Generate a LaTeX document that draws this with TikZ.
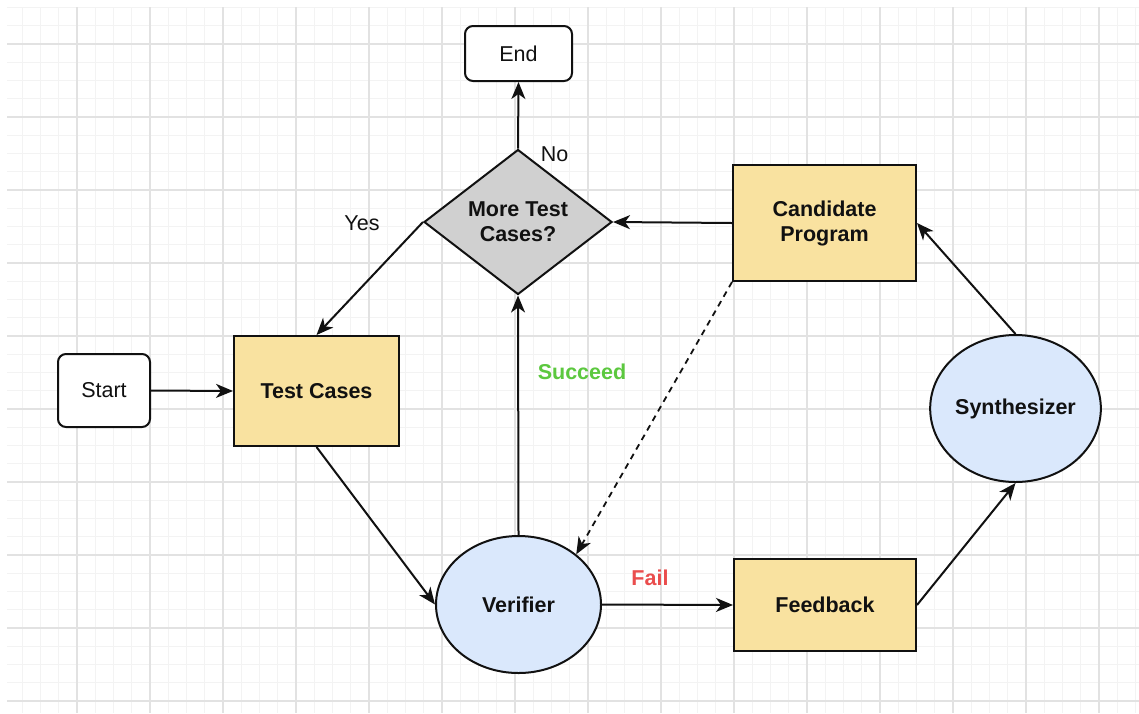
\documentclass[tikz,border=0pt]{standalone}
\usepackage{fontspec}
\setmainfont{Liberation Sans}
\usetikzlibrary{shapes.geometric,arrows.meta}
\definecolor{boxyellow}{HTML}{F9E2A0}
\definecolor{ovalblue}{HTML}{DAE8FC}
\definecolor{diagray}{HTML}{D0D0D0}
\definecolor{okgreen}{HTML}{5CC83F}
\definecolor{failred}{HTML}{EA4D4D}
\definecolor{gridmajor}{HTML}{E2E2E2}
\definecolor{gridminor}{HTML}{F3F3F3}
\definecolor{ink}{HTML}{111111}
\begin{document}
\begin{tikzpicture}[x=1pt,y=-1pt,
  txt/.style={font=\fontsize{21.5}{25}\selectfont, text=ink},
  btxt/.style={font=\fontsize{21.5}{25}\selectfont\bfseries, text=ink},
  base/.style={draw=ink, line width=2pt, align=center, inner sep=0pt},
  term/.style={base, txt, rectangle, rounded corners=8pt, fill=white},
  proc/.style={base, btxt, rectangle, fill=boxyellow},
  oval/.style={base, btxt, ellipse, fill=ovalblue},
  decision/.style={base, btxt, diamond, aspect=1.3, fill=diagray},
  conn/.style={line width=2pt, draw=ink, -{Stealth[length=17pt,width=14pt,inset=5pt]}},
  dashconn/.style={conn, line width=1.8pt, dash pattern=on 6pt off 5pt},
  lbl/.style={txt, inner sep=0pt},
  blbl/.style={btxt, inner sep=0pt}]
% background and grid
\fill[white] (0,0) rectangle (1139,713);
\useasboundingbox (0,0) rectangle (1139,713);
\begin{scope}
  \clip (7,7) rectangle (1139,713);
  \foreach \i in {1,...,62} {
    \pgfmathsetmacro\xx{4+18.25*\i}
    \draw[gridminor, line width=1pt] (\xx,7) -- (\xx,713);
  }
  \foreach \j in {2,...,41} {
    \pgfmathsetmacro\yy{-29+18.25*\j}
    \draw[gridminor, line width=1pt] (7,\yy) -- (1139,\yy);
  }
  \foreach \i in {0,4,...,60} {
    \pgfmathsetmacro\xx{4+18.25*\i}
    \draw[gridmajor, line width=1.3pt] (\xx,7) -- (\xx,713);
  }
  \foreach \j in {4,8,...,40} {
    \pgfmathsetmacro\yy{-29+18.25*\j}
    \draw[gridmajor, line width=1.3pt] (7,\yy) -- (1139,\yy);
  }
\end{scope}
% nodes
\node[term, minimum width=107pt, minimum height=55pt] (end) at (518.5,53.5) {End};
\node[decision, minimum width=188pt, minimum height=145pt] (dec) at (518,222) {More Test\\Cases?};
\node[proc, minimum width=183pt, minimum height=116pt] (cand) at (824.5,223) {Candidate\\Program};
\node[term, minimum width=92pt, minimum height=73pt] (start) at (104,390.5) {Start};
\node[proc, minimum width=165pt, minimum height=110pt] (tests) at (316.5,391) {Test Cases};
\node[oval, minimum width=165pt, minimum height=147pt] (synth) at (1015.5,408.5) {Synthesizer};
\node[oval, minimum width=165pt, minimum height=137pt] (ver) at (518.5,604.5) {Verifier};
\node[proc, minimum width=182pt, minimum height=92pt] (feed) at (825,605) {Feedback};
% labels
\node[lbl] (no) at (554.5,154) {No};
\node[lbl] (yes) at (362,223) {Yes};
\node[blbl, text=okgreen] (succ) at (582,372) {Succeed};
\node[blbl, text=failred] (fail) at (650,578) {Fail};
% connectors
\draw[conn] (dec.north) -- (end.south);
\draw[conn] (cand.west) -- (dec.east);
\draw[conn] (dec.west) -- (tests.north);
\draw[conn] (start.east) -- (tests.west);
\draw[conn] (tests.south) -- (ver.west);
\draw[conn] (ver.north) -- (dec.south);
\draw[dashconn] (cand.south west) -- (ver.41);
\draw[conn] (ver.east) -- (feed.west);
\draw[conn] (feed.east) -- (synth.south);
\draw[conn] (synth.north) -- (cand.east);
\end{tikzpicture}
\end{document}
